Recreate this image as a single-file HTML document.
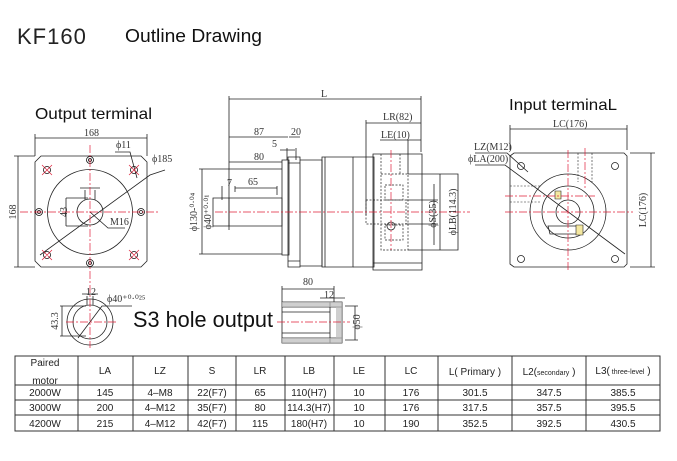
<!DOCTYPE html>
<html><head><meta charset="utf-8"><style>
html,body{margin:0;padding:0;background:#fff;}
svg{display:block}
.d{font-family:"Liberation Serif",serif;font-size:10px;fill:#333}
.t{font-family:"Liberation Sans",sans-serif;font-size:10px;fill:#222}
</style></head><body>
<svg width="677" height="461" viewBox="0 0 677 461" xmlns="http://www.w3.org/2000/svg">
<rect width="677" height="461" fill="#fff"/>
<text x="17" y="44" font-family="Liberation Sans,sans-serif" font-size="22" fill="#222" letter-spacing="1">KF160</text>
<text x="125" y="42" font-family="Liberation Sans,sans-serif" font-size="18" fill="#111" textLength="137" lengthAdjust="spacingAndGlyphs">Outline Drawing</text>
<text x="35" y="119" font-family="Liberation Sans,sans-serif" font-size="16" fill="#111" textLength="117" lengthAdjust="spacingAndGlyphs">Output terminal</text>
<text x="509" y="110" font-family="Liberation Sans,sans-serif" font-size="16" fill="#111" textLength="108" lengthAdjust="spacingAndGlyphs">Input terminaL</text>

<g stroke="#222" stroke-width="0.8" fill="none">
<!-- Output terminal -->
<path d="M41 156 H141 L147 162 V261 L141 267 H41 L35 261 V162 Z"/>
<circle cx="90" cy="212" r="42.5"/>
<circle cx="90" cy="212" r="13"/>
<path d="M35 156 V134 M147 156 V134 M35 138 H147 M35 156 H14 M35 267 H14 M18 156 V267"/>
<path d="M66 198 V226 M66 198 H88 M66 226 H88"/>
<path d="M85 190 V200 M95 190 V200 M80 188 H100"/>
<path d="M40 255 L150 175 L165 170"/>
<path d="M90 212 L108 228 H125"/>
<path d="M115 152 H130 L137 178"/>
<!-- holes -->
<g stroke="#111">
<circle cx="90" cy="160" r="3.5"/><circle cx="39" cy="212" r="3.5"/><circle cx="141" cy="212" r="3.5"/><circle cx="90" cy="263" r="3.5"/>
<circle cx="90" cy="160" r="1.5"/><circle cx="39" cy="212" r="1.5"/><circle cx="141" cy="212" r="1.5"/><circle cx="90" cy="263" r="1.5"/>
<circle cx="47" cy="170" r="3.5"/><circle cx="134" cy="170" r="3.5"/><circle cx="47" cy="255" r="3.5"/><circle cx="134" cy="255" r="3.5"/>
</g>
</g>
<g stroke="#e0203a" stroke-width="0.7" fill="none" stroke-dasharray="8 2 2 2">
<path d="M90 145 V285 M20 212 H160"/>
<path d="M42 165 L52 175 M52 165 L42 175 M129 165 L139 175 M139 165 L129 175 M42 250 L52 260 M52 250 L42 260 M129 250 L139 260 M139 250 L129 260" stroke-dasharray="none"/>
</g>
<text class="d" x="84" y="136">168</text>
<text class="d" x="12" y="216" transform="rotate(-90 12 212)" text-anchor="middle">168</text>
<text class="d" x="116" y="148">ϕ11</text>
<text class="d" x="152" y="162">ϕ185</text>
<text class="d" x="110" y="225">M16</text>
<text class="d" x="64" y="215" transform="rotate(-90 64 212)" text-anchor="middle" font-size="8">43</text>

<!-- Middle side view -->
<g stroke="#222" stroke-width="0.8" fill="none">
<path d="M229 96 V230 M421 96 V152 M229 99 H421"/>
<path d="M366 120 V215 M366 123 H421 M408 140 V174 M380 140 H421"/>
<path d="M229 137 H288 M229 162 H282 M289 137 H300 M287 148 V160 M296 148 V160 M280 150 H295"/>
<path d="M222 186 V200 M235 188 H277 M235 186 V192 M277 186 V195"/>
<path d="M213 198 H282 V226 H213 Z"/>
<path d="M229 198 V226"/>
<path d="M282 160 H289 V255 H282 Z"/>
<path d="M288 157 H300 V267 H288 Z M288 163 H300 M288 261 H300"/>
<path d="M300 160 H322 V266 H300"/>
<path d="M322 157 H353 V267 H322 Z M325 157 V267"/>
<path d="M353 157 H374 V267 H353"/>
<path d="M373 154 H422 V270 H373 Z M373 263 H422"/>
<path d="M408 174 H458 V250 H408"/>
<path d="M199 169 H282 M199 254 H282 M202 169 V254"/>
<path d="M434 184 V245 M406 200 H438 M406 224 H438 M440 174 V250"/>
</g>
<g stroke="#222" stroke-width="0.7" fill="none" stroke-dasharray="2 1.5">
<path d="M381 154 V174 M400 154 V174 M381 174 H408 V250 H381 Z"/>
<path d="M385 185 H403 V200 H385 Z M385 225 H403 V240 H385 Z"/>
<path d="M366 200 H406 V224 H366 Z"/>
</g>
<circle cx="391" cy="226" r="4" stroke="#222" fill="none" stroke-width="0.8"/>
<g stroke="#e0203a" stroke-width="0.7" fill="none" stroke-dasharray="8 2 2 2">
<path d="M215 212 H470 M391 150 V250"/>
</g>
<text class="d" x="321" y="97">L</text>
<text class="d" x="383" y="120">LR(82)</text>
<text class="d" x="381" y="138">LE(10)</text>
<text class="d" x="254" y="135">87</text>
<text class="d" x="291" y="135">20</text>
<text class="d" x="272" y="147">5</text>
<text class="d" x="254" y="160">80</text>
<text class="d" x="248" y="185">65</text>
<text class="d" x="227" y="186">7</text>
<text class="d" x="197" y="212" transform="rotate(-90 197 212)" text-anchor="middle" font-size="9">ϕ130-⁰·⁰⁴</text>
<text class="d" x="211" y="212" transform="rotate(-90 211 212)" text-anchor="middle" font-size="8">ϕ40⁺⁰·⁰¹</text>
<text class="d" x="436" y="214" transform="rotate(-90 436 214)" text-anchor="middle" font-size="9">ϕS(35)</text>
<text class="d" x="456" y="212" transform="rotate(-90 456 212)" text-anchor="middle" font-size="9">ϕLB(114.3)</text>

<!-- Input terminal -->
<g stroke="#222" stroke-width="0.8" fill="none">
<path d="M514 153 H624 L627 156 V264 L624 267 H514 L510 264 V156 Z"/>
<circle cx="568" cy="212" r="38"/>
<circle cx="568" cy="212" r="26"/>
<circle cx="568" cy="212" r="12"/>
<path d="M510 150 V125 M627 150 V125 M510 129 H627 M630 153 H655 M630 267 H655 M651 153 V267"/>
<path d="M475 153 H507 L528 172 M475 165 H505 L625 254"/>
<circle cx="521" cy="166" r="3.5"/><circle cx="615" cy="166" r="3.5"/><circle cx="521" cy="259" r="3.5"/><circle cx="615" cy="259" r="3.5"/>
<path d="M548 226 H582 V234 H550 Z"/>
</g>
<path d="M555 191 h6 v8 h-6z M576 225 h7 v10 h-7z" fill="#f4e8a0" stroke="#222" stroke-width="0.6"/>
<g stroke="#222" stroke-width="0.6" fill="none" stroke-dasharray="2 1.5">
<path d="M510 186 H540 M510 202 H540 M578 153 V182 M592 153 V182"/>
</g>
<g stroke="#e0203a" stroke-width="0.7" fill="none" stroke-dasharray="8 2 2 2">
<path d="M568 150 V270 M585 148 V190 M505 212 H633 M505 196 H595"/>
</g>
<text class="d" x="553" y="127">LC(176)</text>
<text class="d" x="474" y="150">LZ(M12)</text>
<text class="d" x="468" y="162">ϕLA(200)</text>
<text class="d" x="646" y="210" transform="rotate(-90 646 210)" text-anchor="middle">LC(176)</text>

<!-- Bottom sections -->
<g stroke="#222" stroke-width="0.8" fill="none">
<circle cx="90" cy="322" r="23"/>
<circle cx="90" cy="322" r="17"/>
<path d="M87 296 V305 M93 296 V305 M82 294 H98"/>
<path d="M62 306 V336 M60 306 H86 M60 336 H86"/>
<path d="M78 338 L102 306 H132"/>
<path d="M282 302 H342 V343 H282 Z M282 307 H342 M282 338 H342 M282 312 H330 M282 333 H330 M330 302 V343"/>
<path d="M282 286 V302 M334 286 V302 M282 289 H334 M320 298 H345 M355 306 V340 M345 306 H358 M345 340 H358"/>
</g>
<path d="M282 302 H342 V307 H282Z M282 338 H342 V343 H282Z M336 307 H342 V338 H336Z" fill="#bbb" opacity="0.7"/>
<g stroke="#e0203a" stroke-width="0.7" fill="none" stroke-dasharray="8 2 2 2">
<path d="M90 285 V348 M66 322 H116 M277 322 H350"/>
</g>
<text class="d" x="86" y="295" font-size="9">12</text>
<text class="d" x="107" y="302" font-size="9">ϕ40⁺⁰·⁰²⁵</text>
<text class="d" x="58" y="321" transform="rotate(-90 58 321)" text-anchor="middle" font-size="9">43.3</text>
<text class="d" x="303" y="285">80</text>
<text class="d" x="324" y="298" font-size="9">12</text>
<text class="d" x="360" y="322" transform="rotate(-90 360 322)" text-anchor="middle" font-size="9">ϕ50</text>
<text x="133" y="327" font-family="Liberation Sans,sans-serif" font-size="22" fill="#111" textLength="140" lengthAdjust="spacingAndGlyphs">S3 hole output</text>

<!-- Table -->
<g stroke="#333" stroke-width="1" fill="none">
<rect x="15" y="356" width="645" height="75"/>
<path d="M15 385 H660 M15 400 H660 M15 415 H660"/>
<path d="M78 356 V431 M133 356 V431 M188 356 V431 M236 356 V431 M285 356 V431 M334 356 V431 M385 356 V431 M438 356 V431 M512 356 V431 M586 356 V431"/>
</g>
<g class="t" text-anchor="middle">
<text x="45" y="366">Paired</text><text x="45" y="384">motor</text>
<text x="105" y="374">LA</text><text x="160" y="374">LZ</text><text x="212" y="374">S</text><text x="260" y="374">LR</text><text x="309" y="374">LB</text><text x="359" y="374">LE</text><text x="411" y="374">LC</text>
<text x="475" y="375">L( Primary )</text>
<text x="549" y="375">L2(<tspan font-size="7">secondary</tspan> )</text>
<text x="623" y="374">L3(<tspan font-size="7"> three-level</tspan> )</text>
<text x="45" y="396">2000W</text><text x="105" y="396">145</text><text x="160" y="396">4–M8</text><text x="212" y="396">22(F7)</text><text x="260" y="396">65</text><text x="309" y="396">110(H7)</text><text x="359" y="396">10</text><text x="411" y="396">176</text><text x="475" y="396">301.5</text><text x="549" y="396">347.5</text><text x="623" y="396">385.5</text>
<text x="45" y="411">3000W</text><text x="105" y="411">200</text><text x="160" y="411">4–M12</text><text x="212" y="411">35(F7)</text><text x="260" y="411">80</text><text x="309" y="411">114.3(H7)</text><text x="359" y="411">10</text><text x="411" y="411">176</text><text x="475" y="411">317.5</text><text x="549" y="411">357.5</text><text x="623" y="411">395.5</text>
<text x="45" y="427">4200W</text><text x="105" y="427">215</text><text x="160" y="427">4–M12</text><text x="212" y="427">42(F7)</text><text x="260" y="427">115</text><text x="309" y="427">180(H7)</text><text x="359" y="427">10</text><text x="411" y="427">190</text><text x="475" y="427">352.5</text><text x="549" y="427">392.5</text><text x="623" y="427">430.5</text>
</g>
</svg>
</body></html>
